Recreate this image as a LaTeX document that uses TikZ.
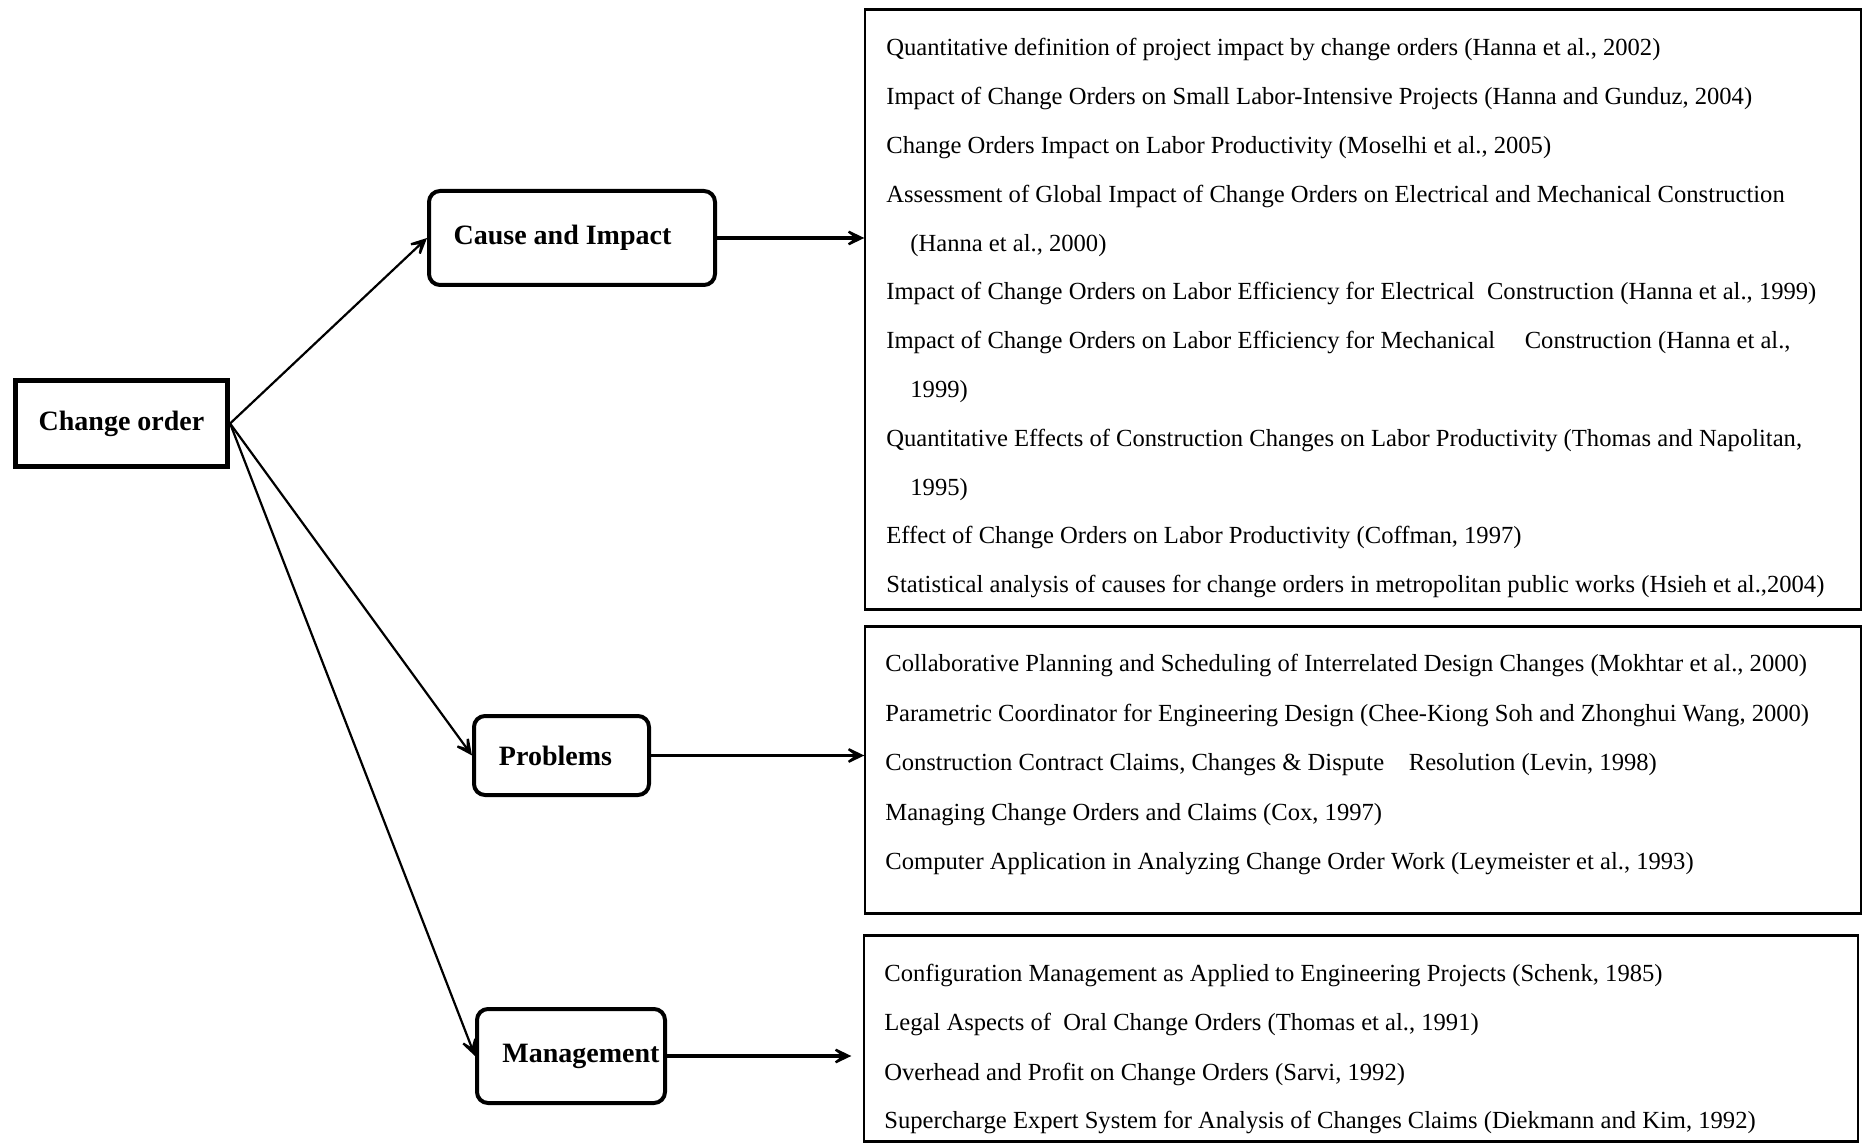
\documentclass[tikz,border=0pt]{standalone}
\usepackage{fontspec}
\setmainfont{Liberation Serif}
\usetikzlibrary{arrows.meta}
\begin{document}
\begin{tikzpicture}[x=0.5pt,y=-0.5pt,
  rootbox/.style={draw, line width=2.6pt, inner sep=0pt,
    font=\fontsize{14}{16}\selectfont\bfseries},
  topic/.style={draw, line width=2pt, rounded corners=5.5pt, inner sep=0pt,
    font=\fontsize{14}{16}\selectfont\bfseries},
  listbox/.style={draw, line width=0.7pt, inner sep=0pt},
  edge/.style={line width=1.6pt},
  ref/.style={anchor=west, inner sep=0pt, text height=0.75em, text depth=0.25em,
    yshift=-1.5pt, font=\fontsize{12.3}{14}\selectfont},
  tip/.style={-{Stealth[length=13pt,width=12.5pt,inset=8.5pt]}},
  link/.style={tip, line width=1.1pt},
  feed/.style={tip, line width=1.6pt},
]
\useasboundingbox (0,0) rectangle (1865,1144);

% main concept and its three branches
\node[rootbox, minimum width=106pt, minimum height=43pt] (co) at (121.5,423.5) {Change order};
\node[topic, minimum width=143pt, minimum height=47pt] (ci) at (572,238) {Cause and Impact\hspace*{9.5pt}};
\node[topic, minimum width=87.5pt, minimum height=39.5pt] (pr) at (561.5,755.5) {Problems\hspace*{6pt}};
\node[topic, minimum width=94pt, minimum height=47pt] (mg) at (571,1056) {\hspace*{10pt}Management};

% literature boxes
\node[listbox, minimum width=498pt, minimum height=299.5pt] (lit1) at (1363,309.5) {};
\node[listbox, minimum width=498pt, minimum height=143pt] (lit2) at (1363,770) {};
\node[listbox, minimum width=497pt, minimum height=102.5pt] (lit3) at (1361,1038.5) {};
\foreach \b in {lit1,lit2,lit3}{
  \draw[edge] (\b.north west) -- (\b.north east);
  \draw[edge] (\b.south west) -- (\b.south east);
}

% connectors
\draw[link] (co.east) -- (ci.west);
\draw[link] (co.east) -- (pr.west);
\draw[link] (co.east) -- (mg.west);
\draw[feed] (ci.east) -- (ci.east -| lit1.west);
\draw[feed] (pr.east) -- (pr.east -| lit2.west);
\draw[feed, shorten >=6pt] (mg.east) -- (mg.east -| lit3.west);

% cause and impact references
\node[ref] (a1) at (886,48) {Quantitative definition of project impact by change orders (Hanna et al., 2002)};
\node[ref] (a2) at (886,96.8) {Impact of Change Orders on Small Labor-Intensive Projects (Hanna and Gunduz, 2004)};
\node[ref] (a3) at (886,145.6) {Change Orders Impact on Labor Productivity (Moselhi et al., 2005)};
\node[ref] (a4) at (886,194.4) {Assessment of Global Impact of Change Orders on Electrical and Mechanical Construction};
\node[ref] (a5) at (910,243.2) {(Hanna et al., 2000)};
\node[ref] (a6) at (886,292) {Impact of Change Orders on Labor Efficiency for Electrical\ \ Construction (Hanna et al., 1999)};
\node[ref] (a7) at (886,340.8) {Impact of Change Orders on Labor Efficiency for Mechanical\hspace{1.2em}Construction (Hanna et al.,};
\node[ref] (a8) at (910,389.6) {1999)};
\node[ref] (a9) at (886,438.4) {Quantitative Effects of Construction Changes on Labor Productivity (Thomas and Napolitan,};
\node[ref] (a10) at (910,487.2) {1995)};
\node[ref] (a11) at (886,536) {Effect of Change Orders on Labor Productivity (Coffman, 1997)};
\node[ref] (a12) at (886,584.8) {Statistical analysis of causes for change orders in metropolitan public works (Hsieh et al.,2004)};

% problems references
\node[ref] (b1) at (885,664) {Collaborative Planning and Scheduling of Interrelated Design Changes (Mokhtar et al., 2000)};
\node[ref] (b2) at (885,713) {Parametric Coordinator for Engineering Design (Chee-Kiong Soh and Zhonghui Wang, 2000)};
\node[ref] (b3) at (885,762) {Construction Contract Claims, Changes \& Dispute\hspace{1em}Resolution (Levin, 1998)};
\node[ref] (b4) at (885,812) {Managing Change Orders and Claims (Cox, 1997)};
\node[ref] (b5) at (885,861) {Computer Application in Analyzing Change Order Work (Leymeister et al., 1993)};

% management references
\node[ref] (c1) at (884,973) {Configuration Management as Applied to Engineering Projects (Schenk, 1985)};
\node[ref] (c2) at (884,1022) {Legal Aspects of\ \ Oral Change Orders (Thomas et al., 1991)};
\node[ref] (c3) at (884,1072) {Overhead and Profit on Change Orders (Sarvi, 1992)};
\node[ref] (c4) at (884,1120) {Supercharge Expert System for Analysis of Changes Claims (Diekmann and Kim, 1992)};
\end{tikzpicture}
\end{document}
